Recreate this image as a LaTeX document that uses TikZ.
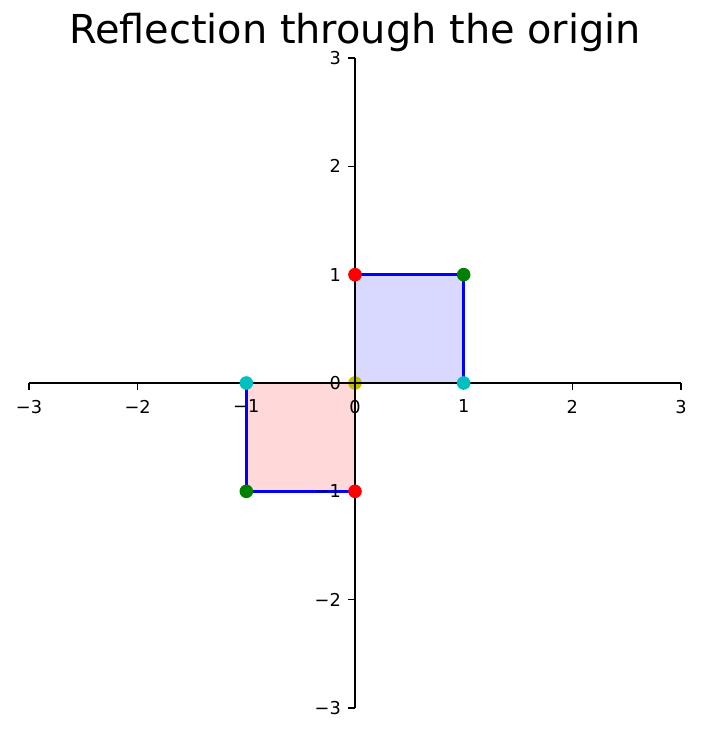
\documentclass[tikz,border=0pt]{standalone}
\usepackage{fontspec}
\setmainfont{DejaVu Sans}
\usetikzlibrary{positioning}
\definecolor{PlotBlue}{rgb}{0,0,1}
\definecolor{FillBlue}{rgb}{0.85,0.85,1}
\definecolor{FillRed}{rgb}{1,0.85,0.85}
\definecolor{DotRed}{rgb}{1,0,0}
\definecolor{DotGreen}{rgb}{0,0.5,0}
\definecolor{DotCyan}{rgb}{0,0.75,0.75}
\definecolor{DotYellow}{rgb}{0.75,0.75,0}
\begin{document}
\begin{tikzpicture}[
  x=78.24pt,y=78pt,
  every node/.style={font=\fontsize{12.8}{14}\selectfont},
  spine/.style={line width=0.9pt,black},
  edge/.style={line width=2.1pt,color=PlotBlue,line join=round},
  vertex/.style={circle,fill=#1,inner sep=0pt,minimum size=9.8pt}
]
\useasboundingbox (-255.6pt,-253.44pt) rectangle (249.84pt,275.76pt);
% squares
\fill[FillBlue] (0,0) rectangle (1,1);
\fill[FillRed] (-1,-1) rectangle (0,0);
\draw[edge] (0,0) -- (1,0) -- (1,1) -- (0,1) -- cycle;
\draw[edge] (0,0) -- (-1,0) -- (-1,-1) -- (0,-1) -- cycle;
\node[vertex=DotYellow] (o) at (0,0) {};
% axes
\draw[spine] (-3,0) -- (3,0);
\draw[spine] (0,-3) -- (0,3);
\foreach \t/\lab in {-3/−3,-2/−2,-1/−1,0/0,1/1,2/2,3/3} {
  \draw[spine] (\t,0) -- ++(0pt,-5pt);
  \node[anchor=north,inner sep=0pt] (xl\t) at ([yshift=-12pt]\t,0) {\lab};
  \draw[spine] (0,\t) -- ++(-5pt,0pt);
  \node[anchor=east,inner sep=0pt] (yl\t) at ([xshift=-10pt]0,\t) {\lab};
}
% corner points
\node[vertex=DotRed] (a1) at (0,1) {};
\node[vertex=DotGreen] (b1) at (1,1) {};
\node[vertex=DotCyan] (c1) at (1,0) {};
\node[vertex=DotRed] (a2) at (0,-1) {};
\node[vertex=DotGreen] (b2) at (-1,-1) {};
\node[vertex=DotCyan] (c2) at (-1,0) {};
% title
\node[anchor=base,inner sep=0pt,font=\fontsize{28.7}{32}\selectfont] (title) at (0pt,244.1pt) {Reflection through the origin};
\end{tikzpicture}
\end{document}
